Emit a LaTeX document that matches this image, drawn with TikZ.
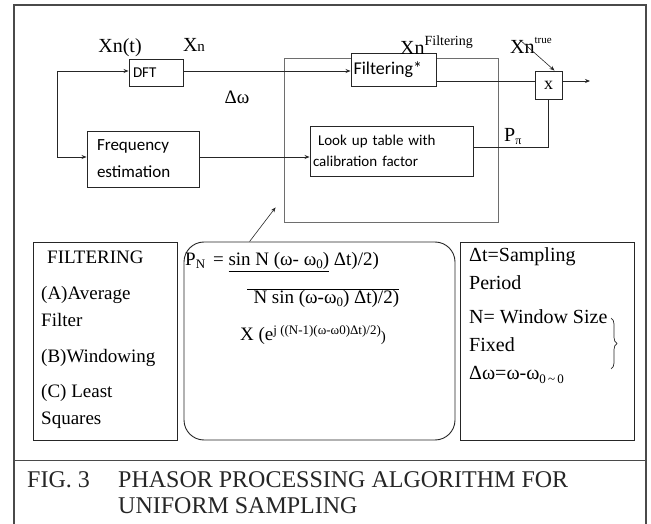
\documentclass[tikz,border=0pt]{standalone}
\usepackage{fontspec}
\setmainfont{Liberation Serif}
\newfontfamily\calibri{Carlito}
\usepackage{tikz}
\usetikzlibrary{arrows.meta, positioning, calc, decorations.pathreplacing}
\definecolor{phLine}{HTML}{262626}
\definecolor{phFrame}{HTML}{4A4A4A}
\definecolor{phCore}{HTML}{6E6E6E}
\newcommand{\pxsize}[1]{\fontsize{#1}{#1}\selectfont}
\tikzset{
  phasor/box/.style    = {rectangle, draw=phLine, line width=0.9pt, align=left,
                          inner xsep=4pt, inner ysep=0pt, font=\calibri\pxsize{15}},
  phasor/panel/.style  = {rectangle, draw=phLine, line width=0.9pt,
                          minimum height=198pt, inner sep=0pt},
  phasor/label/.style  = {inner sep=0pt, font=\pxsize{20}},
  phasor/text/.style   = {inner sep=0pt, anchor=west, font=\pxsize{19}},
  phasor/arrow/.style  = {-{Stealth[length=5pt, width=4pt]}, line width=0.8pt, draw=phLine},
  phasor/wire/.style   = {line width=0.8pt, draw=phLine},
  phasor/caption/.style= {inner sep=0pt, anchor=west, font=\pxsize{24}, text=black!85},
}

\begin{document}
\begin{tikzpicture}[x=1pt, y=-1pt]
  \useasboundingbox (0,0) rectangle (651,524);
  % --- outer frame and caption rule ---
  \draw[phFrame, line width=1.3pt] (14,530) -- (14,5) -- (646,5) -- (646,530);
  \draw[phFrame, line width=1pt] (14,460) -- (646,460);
  % --- core block (drawn first, Filtering* sits on its top edge) ---
  \node[draw=phCore, line width=0.9pt, minimum width=214pt, minimum height=164pt, inner sep=0pt] (core) at (391,140) {};
  % --- processing blocks ---
  \node[phasor/box, text width=46pt, minimum height=27pt] (dft) at (156,72.5) {DFT};
  \node[phasor/box, text width=92pt, inner xsep=10pt, minimum height=56pt, font=\calibri\pxsize{17}, execute at begin node={\baselineskip=27pt}] (freq) at (143,159) {Frequency\\estimation};
  \node[phasor/box, fill=white, text width=80pt, inner xsep=2.5pt, minimum height=33pt, font=\calibri\pxsize{18}] (filt) at (393.5,69.5) {Filtering*};
  \node[phasor/box, text width=157pt, inner xsep=3pt, minimum height=50pt, execute at begin node={\baselineskip=21pt}] (lut) at (391.5,151) {\ Look up table with\\calibration factor};
  \node[phasor/box, minimum width=27pt, minimum height=28pt, inner xsep=0pt, align=center, font=\pxsize{18}] (mult) at (548.5,85) {x};
  % --- signal labels ---
  \node[phasor/label] (lblXt) at (120,48) {Xn(t)};
  \node[phasor/label] (lblXn) at (194,45) {X{\pxsize{15}n}};
  \node[phasor/label, font=\pxsize{19}] (lblDw) at (237,97) {Δω};
  \node[phasor/label, anchor=west] (lblXf) at (400,45) {Xn\raisebox{9pt}{\pxsize{14}Filtering}};
  \node[phasor/label, anchor=west] (lblXtrue) at (510,45) {Xn\raisebox{10pt}{\pxsize{11}true}};
  \node[phasor/label, anchor=west] (lblPpi) at (504,137) {P\raisebox{-3pt}{\pxsize{12}π}};
  \coordinate (split) at (57,115);
  \coordinate (trueend) at (520,40);
  \coordinate (out) at (590,81);
  % --- connectors ---
  \draw[phasor/arrow] (split) |- ([yshift=1.5pt]dft.west);
  \draw[phasor/arrow] (split) |- ([yshift=2pt]freq.west);
  \draw[phasor/arrow] ([yshift=1.5pt]dft.east) -- ([yshift=1.5pt]dft.east -| filt.west);
  \draw[phasor/arrow] ([yshift=2pt]freq.east) -- ([yshift=2pt]freq.east -| lut.west);
  \draw[phasor/wire] ([yshift=4pt]mult.west -| filt.east) -- ([yshift=4pt]mult.west);
  \draw[phasor/arrow] ([yshift=4pt]mult.east) -- (out);
  \draw[phasor/wire] ([yshift=4pt]lut.east) -| (mult.south);
  \draw[phasor/arrow, line width=0.6pt] (trueend) -- ([xshift=6pt]mult.north);
  % --- bottom panels ---
  \node[phasor/panel, minimum width=144pt] (filtering) at (105,341) {};
  \node[phasor/panel, minimum width=271pt, rounded corners=20pt] (formula) at (319.5,341) {};
  \node[phasor/panel, minimum width=174pt] (params) at (547,341) {};
  \draw[phasor/arrow, line width=0.6pt] ([xshift=66pt]formula.north west) -- ([xshift=-8pt, yshift=15pt]core.south west);
  % filtering options
  \node[phasor/text] (fTitle) at (47,257) {FILTERING};
  \node[phasor/text] (fA1) at (41,295) {(A)Average};
  \node[phasor/text] (fA2) at (41,320) {Filter};
  \node[phasor/text] (fB) at (41,358) {(B)Windowing};
  \node[phasor/text] (fC1) at (41,393) {(C) Least};
  \node[phasor/text] (fC2) at (41,420) {Squares};
  % phasor formula
  \node[phasor/text] (num) at (185,262) {P\raisebox{-3pt}{\pxsize{13}N} \,= \underline{sin N (ω- ω\raisebox{-2.5pt}{\pxsize{13}0})} Δt)/2)};
  \node[phasor/text] (den) at (247,298) {$\overline{\hbox{\,\,N sin (ω-ω\raisebox{-2.5pt}{\pxsize{13}0}) Δt)/2)}}$};
  \node[phasor/text] (rot) at (240,335) {X (e\raisebox{6pt}{\pxsize{13}j ((N-1)(ω-ω0)Δt)/2)}\raisebox{-1pt}{\pxsize{15})}};
  % parameters
  \node[phasor/text, font=\pxsize{20}] (pDt) at (469,257) {Δt=Sampling};
  \node[phasor/text, font=\pxsize{20}] (pPer) at (469,283) {Period};
  \node[phasor/text, font=\pxsize{20}] (pN) at (469,317) {N= Window Size};
  \node[phasor/text, font=\pxsize{20}] (pFix) at (469,345) {Fixed};
  \node[phasor/text, font=\pxsize{20}] (pDw) at (469,375) {Δω=ω-ω\raisebox{-4pt}{\pxsize{13}0\,\textasciitilde\,0}};
  \draw[phLine, line width=0.7pt, decorate, decoration={brace, amplitude=6pt}] (611,318) -- (611,369);
  % --- caption ---
  \node[phasor/caption] (capFig) at (27,480) {FIG. 3};
  \node[phasor/caption] (capL1) at (118,480) {PHASOR PROCESSING ALGORITHM FOR};
  \node[phasor/caption] (capL2) at (118,506) {UNIFORM SAMPLING};
\end{tikzpicture}
\end{document}
